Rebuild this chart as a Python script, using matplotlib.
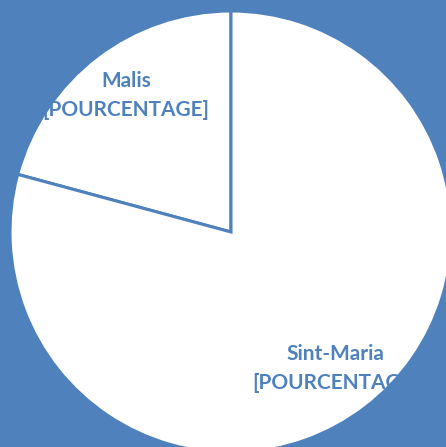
import matplotlib
matplotlib.use("Agg")
import matplotlib.pyplot as plt
from matplotlib.patches import Circle

categories = ["Malis", "Sint-Maria"]
values = [20.8, 79.2]
label_texts = ["[POURCENTAGE]", "[POURCENTAGE]"]

BLUE = "#4F81BD"
W, H = 446, 447
fig = plt.figure(figsize=(W / 100, H / 100), dpi=100, facecolor=BLUE)
ax = fig.add_axes([0, 0, 1, 1])
ax.set_facecolor(BLUE)

cx, cy, R = 231, H - 232, 221
labels = [f"{c}\n{t}" for c, t in zip(categories, label_texts)]
wedges, texts = ax.pie(values, labels=labels, startangle=90, counterclock=True,
                       center=(cx, cy), radius=R, labeldistance=0.78,
                       colors=["white", "white"],
                       wedgeprops=dict(edgecolor=BLUE, linewidth=2.2),
                       textprops=dict(color=BLUE, fontsize=15, fontweight="bold",
                                      family=["Lato", "DejaVu Sans"],
                                      linespacing=1.55))
ax.set_xlim(0, W)
ax.set_ylim(0, H)
ax.set_aspect("equal")
ax.axis("off")
clip = Circle((cx, cy), R, transform=ax.transData)
for t in texts:
    t.set_ha("center")
    t.set_va("center")
    t.set_clip_path(clip)
    t.set_clip_on(True)

fig.savefig("out.png", dpi=100, facecolor=BLUE)
